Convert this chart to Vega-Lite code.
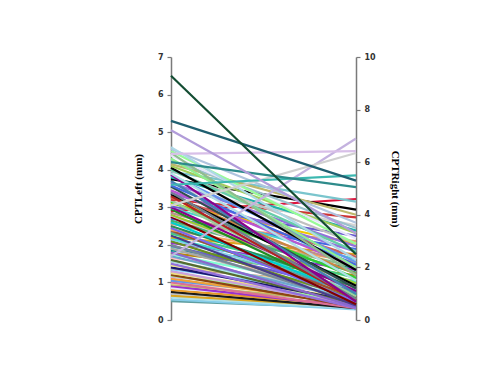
{
  "$schema": "https://vega.github.io/schema/vega-lite/v6.json",
  "width": 185,
  "height": 263,
  "autosize": {"type": "none"},
  "padding": {"left": 171, "top": 57, "right": 145, "bottom": 56},
  "background": "white",
  "config": {
    "view": {"stroke": null},
    "axis": {
      "domainColor": "#7a7a7a",
      "domainWidth": 1.5,
      "tickColor": "#7a7a7a",
      "tickWidth": 1.2,
      "tickSize": 4,
      "grid": false,
      "labelFont": "DejaVu Sans",
      "labelFontWeight": "bold",
      "labelFontSize": 8,
      "labelColor": "#333333",
      "labelPadding": 4,
      "titleFont": "Liberation Serif",
      "titleFontWeight": "bold",
      "titleFontSize": 11,
      "titleColor": "#000000",
      "titlePadding": 14
    }
  },
  "data": {
    "values": [
      {"id": 1, "L": 0.5, "R": 0.45}, {"id": 2, "L": 0.55, "R": 0.4}, {"id": 3, "L": 0.6, "R": 0.45},
      {"id": 4, "L": 0.65, "R": 0.5}, {"id": 5, "L": 0.7, "R": 0.6}, {"id": 6, "L": 0.75, "R": 0.45},
      {"id": 7, "L": 0.8, "R": 0.55}, {"id": 8, "L": 0.85, "R": 0.7}, {"id": 9, "L": 0.9, "R": 0.5},
      {"id": 10, "L": 0.95, "R": 0.65}, {"id": 11, "L": 0.98, "R": 0.85}, {"id": 12, "L": 1.0, "R": 0.45},
      {"id": 13, "L": 1.05, "R": 0.75}, {"id": 14, "L": 1.1, "R": 0.6}, {"id": 15, "L": 1.15, "R": 1.0},
      {"id": 16, "L": 1.18, "R": 0.7}, {"id": 17, "L": 1.2, "R": 0.5}, {"id": 18, "L": 1.25, "R": 0.8},
      {"id": 19, "L": 1.3, "R": 0.55}, {"id": 20, "L": 1.35, "R": 0.95}, {"id": 21, "L": 1.38, "R": 1.35},
      {"id": 22, "L": 1.4, "R": 0.7}, {"id": 23, "L": 1.45, "R": 1.2}, {"id": 24, "L": 1.5, "R": 0.45},
      {"id": 25, "L": 1.55, "R": 1.0}, {"id": 26, "L": 1.58, "R": 0.8}, {"id": 27, "L": 1.6, "R": 0.6},
      {"id": 28, "L": 1.65, "R": 1.5}, {"id": 29, "L": 1.7, "R": 0.75}, {"id": 30, "L": 1.75, "R": 1.1},
      {"id": 31, "L": 1.78, "R": 1.7}, {"id": 32, "L": 1.8, "R": 0.5}, {"id": 33, "L": 1.85, "R": 2.0},
      {"id": 34, "L": 1.9, "R": 0.9}, {"id": 35, "L": 1.95, "R": 1.4}, {"id": 36, "L": 1.98, "R": 1.1},
      {"id": 37, "L": 2.0, "R": 0.65}, {"id": 38, "L": 2.05, "R": 1.9}, {"id": 39, "L": 2.1, "R": 0.8},
      {"id": 40, "L": 2.15, "R": 1.15}, {"id": 41, "L": 2.18, "R": 1.45}, {"id": 42, "L": 2.2, "R": 2.5},
      {"id": 43, "L": 2.25, "R": 0.55}, {"id": 44, "L": 2.3, "R": 1.6}, {"id": 45, "L": 2.35, "R": 1.0},
      {"id": 46, "L": 2.38, "R": 0.85}, {"id": 47, "L": 2.4, "R": 2.2}, {"id": 48, "L": 2.45, "R": 0.7},
      {"id": 49, "L": 2.5, "R": 1.25}, {"id": 50, "L": 2.55, "R": 3.0}, {"id": 51, "L": 2.58, "R": 2.0},
      {"id": 52, "L": 2.6, "R": 0.95}, {"id": 53, "L": 2.65, "R": 1.8}, {"id": 54, "L": 2.7, "R": 2.7},
      {"id": 55, "L": 2.75, "R": 0.6}, {"id": 56, "L": 2.78, "R": 1.3}, {"id": 57, "L": 2.8, "R": 1.4},
      {"id": 58, "L": 2.85, "R": 2.1}, {"id": 59, "L": 2.9, "R": 4.6}, {"id": 60, "L": 2.95, "R": 0.9},
      {"id": 61, "L": 2.98, "R": 2.3}, {"id": 62, "L": 3.0, "R": 1.1}, {"id": 63, "L": 3.02, "R": 3.2},
      {"id": 64, "L": 3.1, "R": 2.9}, {"id": 65, "L": 3.15, "R": 1.6}, {"id": 66, "L": 3.18, "R": 0.9},
      {"id": 67, "L": 3.2, "R": 3.9}, {"id": 68, "L": 3.25, "R": 2.4}, {"id": 69, "L": 3.28, "R": 1.75},
      {"id": 70, "L": 3.3, "R": 0.75}, {"id": 71, "L": 3.35, "R": 1.3}, {"id": 72, "L": 3.38, "R": 2.6},
      {"id": 73, "L": 3.4, "R": 0.8}, {"id": 74, "L": 3.45, "R": 2.0}, {"id": 75, "L": 3.5, "R": 3.6},
      {"id": 76, "L": 3.55, "R": 1.2}, {"id": 77, "L": 3.58, "R": 2.1}, {"id": 78, "L": 3.65, "R": 2.8},
      {"id": 79, "L": 3.7, "R": 1.0}, {"id": 80, "L": 3.75, "R": 4.2}, {"id": 81, "L": 3.8, "R": 3.4},
      {"id": 82, "L": 3.85, "R": 2.2}, {"id": 83, "L": 3.87, "R": 0.7}, {"id": 84, "L": 3.9, "R": 1.5},
      {"id": 85, "L": 3.95, "R": 4.5}, {"id": 86, "L": 3.97, "R": 2.9}, {"id": 87, "L": 4.0, "R": 2.6},
      {"id": 88, "L": 4.05, "R": 1.9}, {"id": 89, "L": 4.1, "R": 3.3}, {"id": 90, "L": 4.15, "R": 4.0},
      {"id": 91, "L": 4.25, "R": 3.5}, {"id": 92, "L": 4.3, "R": 2.0}, {"id": 93, "L": 4.38, "R": 3.1},
      {"id": 94, "L": 4.45, "R": 1.7}, {"id": 95, "L": 4.5, "R": 2.9}, {"id": 96, "L": 4.55, "R": 3.7},
      {"id": 97, "L": 4.6, "R": 2.3}, {"id": 98, "L": 1.7, "R": 6.9}, {"id": 99, "L": 3.05, "R": 6.35},
      {"id": 100, "L": 4.42, "R": 6.42}, {"id": 101, "L": 3.6, "R": 5.5}, {"id": 102, "L": 4.2, "R": 5.05},
      {"id": 103, "L": 5.05, "R": 3.3}, {"id": 104, "L": 5.3, "R": 5.3}, {"id": 105, "L": 6.5, "R": 2.5}
    ]
  },
  "layer": [
    {
      "transform": [
        {"fold": ["L", "R"], "as": ["side", "v"]},
        {"calculate": "datum.side === 'L' ? datum.v / 7 : datum.v / 10", "as": "n"}
      ],
      "mark": {"type": "line", "strokeWidth": 2.2},
      "encoding": {
        "x": {"field": "side", "type": "nominal", "scale": {"type": "point", "padding": 0, "domain": ["L", "R"]}, "axis": null},
        "y": {"field": "n", "type": "quantitative", "scale": {"domain": [0, 1], "nice": false, "zero": false}, "axis": null},
        "color": {
          "field": "id", "type": "ordinal", "legend": null,
          "scale": {"range": ["#5f9ea0","#87ceeb","#b0e0e6","#daa520","#c0c0c0","#1a1a1a","#e69a28","#e6e6fa","#9a32cd","#bdb76b","#ffdab9","#db7093","#6495ed","#eea236","#dda0dd","#98fb98","#8b4513","#eedd82","#c9a0dc","#87cefa","#bc8f8f","#191970","#f0e68c","#9370db","#b0c4de","#afeeee","#556b2f","#ffb6c1","#6ca6cd","#7fffd4","#b8860b","#8968cd","#008b8b","#a9a9a9","#66cdaa","#6a5acd","#778899","#9932cc","#6b8e23","#87ceeb","#40e0d0","#daa520","#483d8b","#43cd80","#5f9ea0","#a0522d","#f4a460","#7b68ee","#2e8b57","#e9967a","#8fbc8f","#00ced1","#3cb371","#4169e1","#800000","#d8bfd8","#9acd32","#bc8f8f","#dc143c","#228b22","#48d1cc","#8b008b","#6a5acd","#eec900","#32cd32","#9bcd9b","#cd3333","#cd5c5c","#cd853f","#b22222","#000000","#9370db","#708090","#ba55d3","#d3d3d3","#2f4f4f","#4169e1","#9370db","#4682b4","#000000","#20b2aa","#6495ed","#8b008b","#b0e0e6","#7ac5cd","#c0c0c0","#66cdaa","#000000","#a2cd5a","#bdb76b","#9ac0cd","#90ee90","#e6e6fa","#8fbc8f","#98fb98","#b0c4de","#add8e6","#c4b2df","#d0d0d0","#d8bfe8","#3cb8b0","#2e8b8b","#b19cd9","#1f5f70","#134d33"]}
        }
      }
    },
    {
      "mark": {"type": "point", "opacity": 0},
      "encoding": {
        "y": {"field": "L", "type": "quantitative", "scale": {"domain": [0, 7], "nice": false},
          "axis": {"orient": "left", "title": "CPTLeft (mm)", "values": [0,1,2,3,4,5,6,7], "format": "d"}}
      }
    },
    {
      "mark": {"type": "point", "opacity": 0},
      "encoding": {
        "y": {"field": "R", "type": "quantitative", "scale": {"domain": [0, 10], "nice": false},
          "axis": {"orient": "right", "title": "CPTRight (mm)", "values": [0,2,4,6,8,10], "format": "d", "titleAngle": 90}}
      }
    }
  ],
  "resolve": {"scale": {"y": "independent"}}
}
